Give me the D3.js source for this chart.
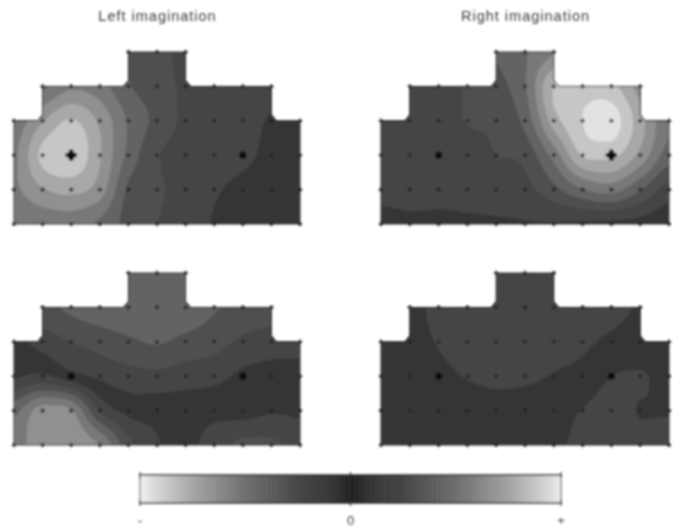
<!DOCTYPE html>
<html>
<head>
<meta charset="utf-8">
<script src="https://cdn.jsdelivr.net/npm/d3@7"></script>
<style>
  html, body { margin: 0; padding: 0; background: #fff; }
  text { font-family: "Liberation Sans", sans-serif; fill: #3a3a3a; }
</style>
</head>
<body>
<svg id="chart" width="673" height="529"></svg>
<script>
// values at the electrode grid (6 rows, 11 columns), signed, in contour steps
const leftTop = [
  [2.0, 2.4, 3.0, 3.0, 2.4, 2.0, 1.1, 1.0, 1.0, 0.9, 0.7],
  [2.6, 3.3, 4.3, 3.9, 2.6, 2.0, 1.3, 1.2, 1.1, 0.9, 0.7],
  [3.8, 5.4, 6.6, 5.3, 3.4, 2.2, 1.3, 1.1, 0.9, 0.4, 0.2],
  [4.3, 6.8, 7.4, 5.6, 3.2, 1.6, 1.1, 1.0, 0.7, 0.3, 0.2],
  [4.3, 5.4, 5.8, 5.0, 2.3, 1.7, 1.0, 0.6, 0.3, 0.2, 0.2],
  [3.6, 3.8, 3.9, 3.3, 2.1, 1.5, 0.9, 0.45, 0.3, 0.2, 0.15]
];
const rightTop = [
  [1.0, 1.0, 1.1, 1.8, 2.6, 3.4, 4.4, 5.5, 5.5, 4.0, 3.0],
  [1.0, 1.0, 1.1, 1.6, 2.1, 3.4, 6.6, 7.0, 6.8, 5.0, 3.0],
  [1.0, 1.0, 1.1, 1.55, 1.7, 2.8, 6.0, 7.5, 8.0, 5.9, 3.6],
  [1.0, 0.9, 0.9, 1.1, 1.5, 1.8, 3.9, 6.6, 6.8, 5.2, 3.0],
  [0.8, 0.8, 0.8, 0.9, 1.0, 1.2, 2.2, 3.4, 3.9, 2.6, 1.0],
  [0.2, 0.35, 0.3, 0.35, 0.4, 0.45, 0.45, 0.35, 0.3, 0.15, -0.1]
];
const leftBottom = [
  [2.0, 2.2, 2.8, 3.2, 3.3, 3.3, 3.3, 3.0, 2.4, 2.0, 1.5],
  [1.6, 2.2, 2.7, 3.1, 3.3, 3.3, 3.2, 2.6, 2.2, 2.0, 1.5],
  [0.3, 0.9, 1.5, 1.9, 2.3, 2.6, 2.2, 1.9, 1.3, 1.0, 0.8],
  [-0.4, -0.7, 0.1, 0.7, 1.1, 1.2, 1.0, 0.8, 0.3, 0.1, 0.2],
  [-3.2, -5.0, -4.6, -1.4, -0.2, -0.1, -0.1, -0.2, -0.1, -0.4, -0.3],
  [-4.0, -5.2, -5.2, -4.5, -1.8, -0.6, -0.3, -0.9, -1.8, -1.7, -1.2]
];
const rightBottom = [
  [0.15, 0.2, 0.6, 0.9, 0.9, 0.9, 0.9, 0.8, 0.65, 0.45, 0.3],
  [0.15, 0.25, 0.7, 0.9, 0.9, 0.9, 0.9, 0.8, 0.65, 0.45, 0.3],
  [0.15, 0.25, 0.55, 0.9, 0.9, 0.9, 0.8, 0.65, 0.35, 0.2, 0.1],
  [0.15, 0.2, 0.3, 0.55, 0.7, 0.65, 0.45, 0.2, -0.5, -0.6, -0.2],
  [0.1, 0.1, 0.1, 0.1, 0.15, 0.1, 0.0, -0.55, -0.9, -0.45, -0.45],
  [0.1, 0.1, 0.0, 0.0, 0.0, -0.1, -0.25, -0.8, -0.8, -0.75, -0.7]
];

// first and last electrode column used in each row
const rowSpans = [[4, 6], [1, 9], [0, 10], [0, 10], [0, 10], [0, 10]];

// grey for |value| = 0..8.5
const levelValues = [0, 1, 2, 3, 4, 5, 6, 7, 8, 8.5];
const levelGreys = ["#363636", "#444444", "#505050", "#646464", "#787878", "#909090", "#a8a8a8", "#c6c6c6", "#e2e2e2", "#efefef"];
const grey = d3.scaleLinear().domain(levelValues).range(levelGreys);

// the bar runs a little darker than the fills
const barGreys = ["#242424", "#383838", "#444444", "#565656", "#6a6a6a", "#808080", "#9a9a9a", "#b8b8b8", "#dadada", "#f0f0f0"];
const barGrey = d3.scaleLinear().domain(levelValues).range(barGreys);
const barTicks = [-8.5, 0, 8.5];
const barLabels = ["-", "0", "+"];

const panels = [
  {data: leftTop, x: [14, 300], y: [52, 224], big: [2, 3], small: [[8, 3]], title: "Left imagination"},
  {data: rightTop, x: [381, 669], y: [52, 224], big: [8, 3], small: [[2, 3]], title: "Right imagination"},
  {data: leftBottom, x: [14, 300], y: [273, 445], big: null, small: [[2, 3], [8, 3]]},
  {data: rightBottom, x: [381, 669], y: [273, 445], big: null, small: [[2, 3], [8, 3]]}
];

const svg = d3.select("#chart");
const defs = svg.append("defs");
defs.append("filter").attr("id", "soft")
    .attr("filterUnits", "userSpaceOnUse")
    .attr("x", 0).attr("y", 0)
    .attr("width", 673).attr("height", 529)
  .append("feGaussianBlur").attr("stdDeviation", 0.95);

const root = svg.append("g").attr("filter", "url(#soft)");

// smooth the coarse grid so the contour lines are not polygons,
// clamped between neighbours so it does not overshoot into a new band
const K = 8;
function catmull(p0, p1, p2, p3, t) {
  const v = 0.5 * (2 * p1 + (p2 - p0) * t + (2 * p0 - 5 * p1 + 4 * p2 - p3) * t * t + (3 * p1 - p0 - 3 * p2 + p3) * t * t * t);
  return Math.max(Math.min(p1, p2), Math.min(Math.max(p1, p2), v));
}
function resample(row) {
  const out = [];
  for (let i = 0; i < row.length - 1; i++) {
    for (let s = 0; s < K; s++) {
      out.push(catmull(row[Math.max(i - 1, 0)], row[i], row[i + 1], row[Math.min(i + 2, row.length - 1)], s / K));
    }
  }
  out.push(row[row.length - 1]);
  return out;
}
function fineGrid(data) {
  const wide = data.map(resample);
  const cols = d3.range(wide[0].length).map(i => resample(wide.map(r => r[i])));
  const values = [];
  for (let j = 0; j < cols[0].length; j++) cols.forEach(c => values.push(c[j]));
  return {values, w: cols.length, h: cols[0].length};
}

const thresholds = d3.range(-8.5, 9, 1);

panels.forEach((p, idx) => {
  const xs = d3.scaleLinear().domain([0, 10]).range(p.x);
  const ys = d3.scaleLinear().domain([0, 5]).range(p.y);
  const g = root.append("g");

  // head shape outline from the electrode rows
  const nick = 0.18;
  const o = [];
  o.push([4, 0], [6, 0], [6, 1 - nick], [6 + nick, 1], [9, 1], [9, 2 - nick], [9 + nick, 2], [10, 2], [10, 5]);
  o.push([0, 5], [0, 2], [1 - nick, 2], [1, 2 - nick], [1, 1], [4 - nick, 1], [4, 1 - nick]);
  const outline = d3.line().x(d => xs(d[0])).y(d => ys(d[1]))(o) + "Z";

  defs.append("clipPath").attr("id", "head" + idx).append("path").attr("d", outline);

  const fine = fineGrid(p.data);
  const contours = d3.contours().size([fine.w, fine.h]).thresholds(thresholds)(fine.values);
  const path = d3.geoPath(d3.geoTransform({
    point(x, y) { this.stream.point(xs((x - 0.5) / K), ys((y - 0.5) / K)); }
  }));

  g.append("g").attr("clip-path", `url(#head${idx})`)
    .selectAll("path").data(contours).join("path")
      .attr("d", path)
      .attr("fill", d => grey(Math.abs(d.value + 0.5)));

  g.append("path").attr("d", outline)
      .attr("fill", "none").attr("stroke", "#333").attr("stroke-width", 1);

  // electrodes
  const cross = d3.symbol().type(d3.symbolCross).size(12);
  rowSpans.forEach((span, r) => {
    d3.range(span[0], span[1] + 1).forEach(c => {
      g.append("path").attr("d", cross())
        .attr("transform", `translate(${xs(c)},${ys(r)})`)
        .attr("fill", "#262626");
    });
  });
  p.small.forEach(e => {
    g.append("circle").attr("cx", xs(e[0])).attr("cy", ys(e[1])).attr("r", 3.6).attr("fill", "#0c0c0c");
  });
  if (p.big) {
    g.append("circle").attr("cx", xs(p.big[0])).attr("cy", ys(p.big[1])).attr("r", 4).attr("fill", "#050505");
    g.append("path").attr("d", d3.symbol().type(d3.symbolCross).size(70)())
      .attr("transform", `translate(${xs(p.big[0])},${ys(p.big[1])})`)
      .attr("fill", "#111");
  }

  if (p.title) {
    g.append("text").attr("x", xs(5) + 0.5).attr("y", 21)
      .attr("text-anchor", "middle")
      .attr("font-size", 14.5)
      .attr("letter-spacing", 1)
      .text(p.title);
  }
});

// colour bar
const barX = d3.scaleLinear().domain([-8.5, 8.5]).range([140, 561]);
const barTop = 475, barBottom = 503;
const bar = root.append("g");
const barStep = 0.1;
bar.selectAll("rect.step").data(d3.range(-8.5, 8.5, barStep)).join("rect")
    .attr("class", "step")
    .attr("x", d => barX(d))
    .attr("width", barX(barStep) - barX(0) + 0.5)
    .attr("y", barTop).attr("height", barBottom - barTop)
    .attr("fill", d => barGrey(Math.abs(d)));
bar.append("rect")
    .attr("x", barX(-8.5)).attr("y", barTop)
    .attr("width", barX(8.5) - barX(-8.5)).attr("height", barBottom - barTop)
    .attr("fill", "none").attr("stroke", "#555").attr("stroke-width", 1);
bar.append("line").attr("x1", 140).attr("x2", 561).attr("y1", barTop).attr("y2", barTop).attr("stroke", "#222");
bar.append("line").attr("x1", 140).attr("x2", 561).attr("y1", barBottom).attr("y2", barBottom).attr("stroke", "#222");
barTicks.forEach((t, i) => {
  bar.append("line").attr("x1", barX(t)).attr("x2", barX(t)).attr("y1", barTop - 3).attr("y2", barTop + 3).attr("stroke", "#222");
  bar.append("line").attr("x1", barX(t)).attr("x2", barX(t)).attr("y1", barBottom - 3).attr("y2", barBottom + 3).attr("stroke", "#222");
  bar.append("text").attr("x", barX(t)).attr("y", 525)
      .attr("text-anchor", "middle").attr("font-size", 13).text(barLabels[i]);
});
</script>
</body>
</html>
